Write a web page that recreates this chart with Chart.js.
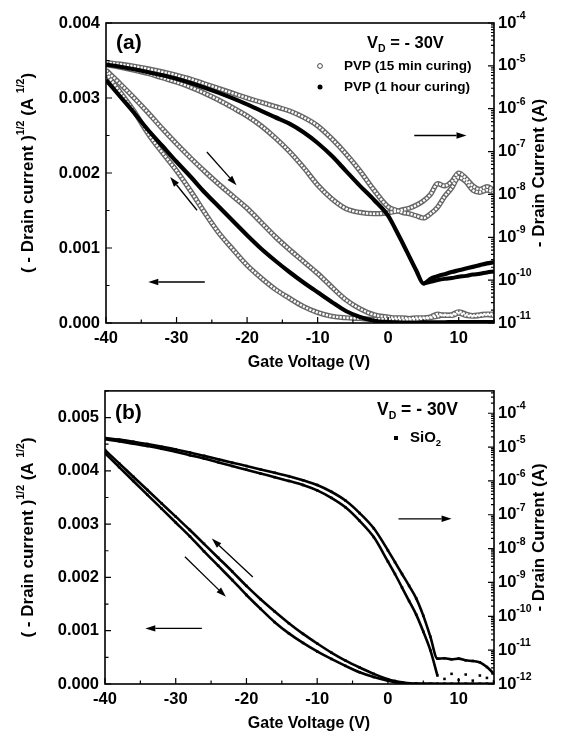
<!DOCTYPE html>
<html>
<head>
<meta charset="utf-8">
<script src="https://cdn.jsdelivr.net/npm/chart.js@4.4.0/dist/chart.umd.min.js"></script>
<style>
    html, body { margin: 0; padding: 0; background: #fff; }
    canvas { display: block; }
</style>
</head>
<body>
<canvas id="chartA" width="562" height="375"></canvas>
<canvas id="chartB" width="562" height="361"></canvas>
<script>
const gate = [-40, -38, -36, -34, -32, -30, -28, -26, -24, -22, -20, -18, -16, -14, -12, -10, -8, -6, -4, -2,
    0, 1, 2, 3, 4, 5, 6, 7, 8, 9, 10, 11, 12, 13, 14, 15];
const gateTail = [5, 6, 7, 8, 9, 10, 11, 12, 13, 14, 15];
const gateTailSi = [8, 9, 10, 11, 12, 13, 14, 15];

// (a) sqrt(-Id), units of 1e-3 A^1/2
const sqrt15Up = [3.37, 3.19, 3.00, 2.80, 2.59, 2.39, 2.20, 2.02, 1.85, 1.69, 1.53, 1.34, 1.15, 0.98, 0.82, 0.66, 0.48, 0.31, 0.19, 0.11,
    0.08, 0.07, 0.07, 0.06, 0.07, 0.07, 0.08, 0.12, 0.10, 0.11, 0.15, 0.12, 0.10, 0.11, 0.12, 0.12];
const sqrt15Dn = [3.33, 3.08, 2.82, 2.52, 2.27, 2.03, 1.76, 1.47, 1.20, 0.98, 0.77, 0.60, 0.45, 0.33, 0.22, 0.14, 0.09, 0.07, 0.06, 0.05,
    0.05, 0.05, 0.04, 0.05, 0.05, 0.06, 0.07, 0.09, 0.11, 0.10, 0.13, 0.10, 0.09, 0.10, 0.11, 0.10];
const sqrt1h = [3.24, 3.02, 2.80, 2.57, 2.36, 2.15, 1.95, 1.74, 1.55, 1.36, 1.17, 0.99, 0.83, 0.68, 0.54, 0.41, 0.28, 0.16, 0.08, 0.03,
    0.012, 0.008, 0.005, 0.003, 0.002, 0.009, 0.01, 0.01, 0.01, 0.011, 0.011, 0.011, 0.012, 0.012, 0.013, 0.013];

// (a) log10(-Id / A)
const log15Up = [-4.92, -4.96, -5.01, -5.07, -5.14, -5.22, -5.31, -5.42, -5.53, -5.64, -5.75, -5.85, -5.95, -6.05, -6.20, -6.40, -6.70, -7.05, -7.45, -7.90,
    -8.29, -8.36, -8.42, -8.45, -8.50, -8.55, -8.45, -8.30, -8.05, -7.85, -7.60, -7.70, -7.90, -7.95, -7.90, -7.95];
const log15Dn = [-4.97, -5.03, -5.10, -5.18, -5.28, -5.38, -5.50, -5.64, -5.80, -5.98, -6.17, -6.40, -6.68, -7.00, -7.37, -7.78, -8.10, -8.33, -8.42, -8.45,
    -8.43, -8.40, -8.36, -8.32, -8.25, -8.15, -8.00, -7.75, -7.80, -7.70, -7.50, -7.62, -7.80, -7.88, -7.82, -7.90];
const log1h = [-4.97, -5.02, -5.08, -5.15, -5.22, -5.30, -5.40, -5.51, -5.63, -5.76, -5.90, -6.05, -6.20, -6.35, -6.55, -6.80, -7.10, -7.45, -7.80, -8.13,
    -8.50, -8.80, -9.12, -9.45, -9.78, -10.08, -9.97, -9.91, -9.86, -9.81, -9.77, -9.73, -9.69, -9.65, -9.61, -9.58];
const log1hBack = [-10.08, -10.04, -10.00, -9.97, -9.95, -9.92, -9.90, -9.87, -9.85, -9.82, -9.80];

// (b) SiO2
const sqrtSiUp = [4.39, 4.14, 3.89, 3.64, 3.39, 3.14, 2.89, 2.63, 2.37, 2.11, 1.84, 1.59, 1.36, 1.14, 0.94, 0.76, 0.59, 0.44, 0.31, 0.19,
    0.09, 0.055, 0.03, 0.015, 0.008, 0.005, 0.003, 0.002, 0.002, 0.002, 0.002, 0.002, 0.002, 0.002, 0.002, 0.002];
const sqrtSiDn = [4.33, 4.07, 3.81, 3.55, 3.29, 3.03, 2.77, 2.49, 2.22, 1.95, 1.67, 1.41, 1.16, 0.95, 0.77, 0.61, 0.47, 0.34, 0.22, 0.13,
    0.06, 0.035, 0.02, 0.01, 0.005, 0.003, 0.002, 0.001, 0.001, 0.001, 0.001, 0.001, 0.001, 0.001, 0.001, 0.001];
const logSiUp = [-4.73, -4.78, -4.84, -4.91, -4.99, -5.07, -5.16, -5.26, -5.36, -5.46, -5.56, -5.66, -5.76, -5.86, -5.98, -6.12, -6.32, -6.58, -6.95, -7.40,
    -8.05, -8.40, -8.75, -9.10, -9.47, -9.98, -10.60, -11.25, -11.24, -11.27, -11.25, -11.30, -11.32, -11.36, -11.50, -11.70];
const logSiDn = [-4.77, -4.83, -4.90, -4.97, -5.05, -5.14, -5.24, -5.34, -5.45, -5.56, -5.67, -5.78, -5.89, -6.00, -6.12, -6.28, -6.50, -6.78, -7.18, -7.66,
    -8.38, -8.75, -9.15, -9.55, -9.95, -10.45, -11.00, -11.75];
const logSiDnTail = [-11.85, -11.70, -11.88, -11.72, -11.90, -11.75, -11.82, -11.92];

const FONT = '"Liberation Sans", Arial, sans-serif';
const tickFont = { family: FONT, size: 16.5, weight: 'bold' };

function sqrtPts(xs, ys) {
    return ys.map((y, i) => ({ x: xs[i], y: y * 1e-3 }));
}

function logPts(xs, es) {
    return es.map((e, i) => ({ x: xs[i], y: Math.pow(10, e) }));
}

// open circles drawn as a hollow, textured grey band
function openBand(data, axis) {
    return [
        { data: data, yAxisID: axis, borderColor: '#666', borderWidth: 5.2, order: 3 },
        { data: data, yAxisID: axis, borderColor: '#fff', borderWidth: 2.4, borderDash: [2.2, 1.3], order: 2 }
    ];
}

function solid(data, axis, w) {
    return { data: data, yAxisID: axis, borderColor: '#000', borderWidth: w, order: 1 };
}

function squares(data, axis, line) {
    return {
        data: data, yAxisID: axis, borderColor: '#000', borderWidth: line ? 2.6 : 0, showLine: line,
        pointStyle: 'rect', pointRadius: 1.8, pointBackgroundColor: '#000', pointBorderWidth: 0, order: 1
    };
}

function rich(ctx, parts, x, y, align) {
    let w = 0;
    for (const p of parts) {
        ctx.font = 'bold ' + p[1] + 'px ' + FONT;
        w += ctx.measureText(p[0]).width;
    }
    let cx = align === 'center' ? x - w / 2 : (align === 'right' ? x - w : x);
    ctx.textAlign = 'left';
    ctx.textBaseline = 'middle';
    for (const p of parts) {
        ctx.font = 'bold ' + p[1] + 'px ' + FONT;
        ctx.fillText(p[0], cx, y + (p[2] || 0));
        cx += ctx.measureText(p[0]).width;
    }
}

function arrow(ctx, x1, y1, x2, y2) {
    const ang = Math.atan2(y2 - y1, x2 - x1);
    const hl = 10, hw = 3.2;
    const bx = x2 - hl * Math.cos(ang), by = y2 - hl * Math.sin(ang);
    ctx.beginPath();
    ctx.moveTo(x1, y1);
    ctx.lineTo(bx, by);
    ctx.stroke();
    ctx.beginPath();
    ctx.moveTo(x2, y2);
    ctx.lineTo(bx + hw * Math.sin(ang), by - hw * Math.cos(ang));
    ctx.lineTo(bx - hw * Math.sin(ang), by + hw * Math.cos(ang));
    ctx.closePath();
    ctx.fill();
}

const panelPlugin = {
    id: 'panel',
    afterDraw(chart, args, o) {
        const ctx = chart.ctx;
        const a = chart.chartArea;
        const sx = chart.scales.x, sy = chart.scales.y, sr = chart.scales.y2;
        ctx.save();
        ctx.strokeStyle = '#000';
        ctx.fillStyle = '#000';

        ctx.lineWidth = 1.6;
        ctx.strokeRect(a.left, a.top, a.right - a.left, a.bottom - a.top);

        // inward ticks
        ctx.lineWidth = 1.2;
        ctx.beginPath();
        for (let v = sx.min; v <= sx.max; v += 5) {
            const px = sx.getPixelForValue(v);
            const len = v % 10 === 0 ? 6 : 3.5;
            ctx.moveTo(px, a.bottom);
            ctx.lineTo(px, a.bottom - len);
        }
        for (let k = 0; k * 0.0005 <= sy.max + 1e-9; k++) {
            const py = sy.getPixelForValue(k * 0.0005);
            const len = k % 2 === 0 ? 6 : 3.5;
            ctx.moveTo(a.left, py);
            ctx.lineTo(a.left + len, py);
        }
        const e0 = Math.round(Math.log10(sr.min)), e1 = Math.ceil(Math.log10(sr.max));
        const decades = [];
        for (let e = e0; e <= e1; e++) {
            for (let m = 1; m < 10; m++) {
                const v = m * Math.pow(10, e);
                if (v < sr.min * 0.999 || v > sr.max * 1.001) continue;
                if (m === 1) decades.push(e);
                const py = sr.getPixelForValue(v);
                ctx.moveTo(a.right, py);
                ctx.lineTo(a.right - (m === 1 ? 6 : 3), py);
            }
        }
        ctx.stroke();

        // right axis labels 10^n
        decades.forEach(e => {
            const py = sr.getPixelForValue(Math.pow(10, e));
            rich(ctx, [['10', 16.5], [String(e), 10.5, -7]], a.right + 4, py, 'left');
        });

        // axis titles
        rich(ctx, [['Gate Voltage (V)', 16]], o.xTitleX, a.bottom + 40, 'center');
        const midY = (a.top + a.bottom) / 2;
        ctx.save();
        ctx.translate(28, midY);
        ctx.rotate(-Math.PI / 2);
        rich(ctx, [['( - Drain current )', 17], ['1/2', 10.5, -7], [' (A ', 17], ['1/2', 10.5, -7], [')', 17]], 0, 0, 'center');
        ctx.restore();
        ctx.save();
        ctx.translate(539, midY);
        ctx.rotate(-Math.PI / 2);
        rich(ctx, [['- Drain Current (A)', 17]], 0, 0, 'center');
        ctx.restore();

        // panel tag and conditions
        rich(ctx, [[o.tag, 21]], o.tagX, o.tagY, 'left');
        rich(ctx, [['V', o.condSize], ['D', 10.5, 6], [' = - 30V', o.condSize]], o.condX, o.condY, 'left');
        o.legend.forEach(l => {
            ctx.lineWidth = 1;
            if (l.marker === 'open') {
                ctx.strokeStyle = '#444';
                ctx.beginPath(); ctx.arc(l.mx, l.my, 2.4, 0, Math.PI * 2); ctx.stroke();
            } else if (l.marker === 'dot') {
                ctx.beginPath(); ctx.arc(l.mx, l.my, 2.5, 0, Math.PI * 2); ctx.fill();
            } else {
                ctx.fillRect(l.mx - 2, l.my - 2, 4, 4);
            }
            rich(ctx, l.text, l.tx, l.my, 'left');
        });

        // sweep direction arrows, in data units of x / left axis
        ctx.strokeStyle = '#000';
        ctx.lineWidth = 1.3;
        o.arrows.forEach(r => {
            arrow(ctx, sx.getPixelForValue(r[0]), sy.getPixelForValue(r[1]),
                sx.getPixelForValue(r[2]), sy.getPixelForValue(r[3]));
        });
        ctx.restore();
    }
};

function makeChart(id, datasets, o) {
    return new Chart(document.getElementById(id), {
        type: 'line',
        data: { datasets: datasets },
        plugins: [panelPlugin],
        options: {
            responsive: false,
            animation: false,
            devicePixelRatio: 1,
            layout: { padding: { top: o.top, left: 0, right: 0, bottom: 0 } },
            elements: {
                line: { cubicInterpolationMode: 'monotone', fill: false },
                point: { radius: 0 }
            },
            plugins: { legend: { display: false }, tooltip: { enabled: false }, panel: o.panel },
            scales: {
                x: {
                    type: 'linear', min: -40, max: 15,
                    grid: { display: false, drawTicks: false }, border: { display: false },
                    ticks: { stepSize: 10, includeBounds: false, font: tickFont, color: '#000', padding: 6, maxRotation: 0, callback: v => String(v) },
                    afterFit: s => { s.height = 52; }
                },
                y: {
                    type: 'linear', position: 'left', min: 0, max: o.leftMax,
                    grid: { display: false, drawTicks: false }, border: { display: false },
                    ticks: { stepSize: 0.001, includeBounds: false, font: tickFont, color: '#000', padding: 6, callback: v => v.toFixed(3) },
                    afterFit: s => { s.width = o.leftW; }
                },
                y2: {
                    type: 'logarithmic', position: 'right', min: o.rMin, max: o.rMax,
                    grid: { display: false, drawTicks: false }, border: { display: false },
                    ticks: { display: false },
                    afterFit: s => { s.width = 68; }
                }
            }
        }
    });
}

const dataA = [].concat(
    openBand(sqrtPts(gate, sqrt15Up), 'y'),
    openBand(sqrtPts(gate, sqrt15Dn), 'y'),
    openBand(logPts(gate, log15Up), 'y2'),
    openBand(logPts(gate, log15Dn), 'y2'),
    [solid(sqrtPts(gate, sqrt1h), 'y', 4.2),
     solid(logPts(gate, log1h), 'y2', 4.2),
     solid(logPts(gateTail, log1hBack), 'y2', 4)]
);

makeChart('chartA', dataA, {
    top: 23, leftW: 106, leftMax: 0.004, rMin: 1e-11, rMax: 1e-4,
    panel: {
        tag: '(a)', tagX: 116, tagY: 43, xTitleX: 309,
        condX: 367, condY: 43, condSize: 16.5,
        legend: [
            { marker: 'open', mx: 320, my: 66, tx: 344, text: [['PVP (15 min curing)', 13.5]] },
            { marker: 'dot', mx: 320, my: 87, tx: 344, text: [['PVP (1 hour curing)', 13.5]] }
        ],
        arrows: [[3.7, 0.0025, 11.1, 0.0025], [-26.0, 0.000547, -34.0, 0.000547],
            [-25.7, 0.00228, -21.5, 0.001836], [-27.1, 0.001503, -30.9, 0.001947]]
    }
});

const dataB = [
    squares(sqrtPts(gate, sqrtSiUp), 'y', true),
    squares(sqrtPts(gate, sqrtSiDn), 'y', true),
    squares(logPts(gate, logSiUp), 'y2', true),
    squares(logPts(gate, logSiDn), 'y2', true),
    squares(logPts(gateTailSi, logSiDnTail), 'y2', false)
];

makeChart('chartB', dataB, {
    top: 12, leftW: 105, leftMax: 0.0055, rMin: 1e-12, rMax: Math.pow(10, -3.34),
    panel: {
        tag: '(b)', tagX: 115, tagY: 38, xTitleX: 309,
        condX: 377, condY: 35, condSize: 17.5,
        legend: [
            { marker: 'square', mx: 396, my: 63, tx: 410, text: [['SiO', 15], ['2', 9.5, 5]] }
        ],
        arrows: [[1.5, 0.0031, 9.0, 0.0031], [-26.3, 0.001043, -34.3, 0.001043],
            [-19.1, 0.002006, -24.9, 0.002728], [-28.7, 0.002389, -22.9, 0.001635]]
    }
});
</script>
</body>
</html>
